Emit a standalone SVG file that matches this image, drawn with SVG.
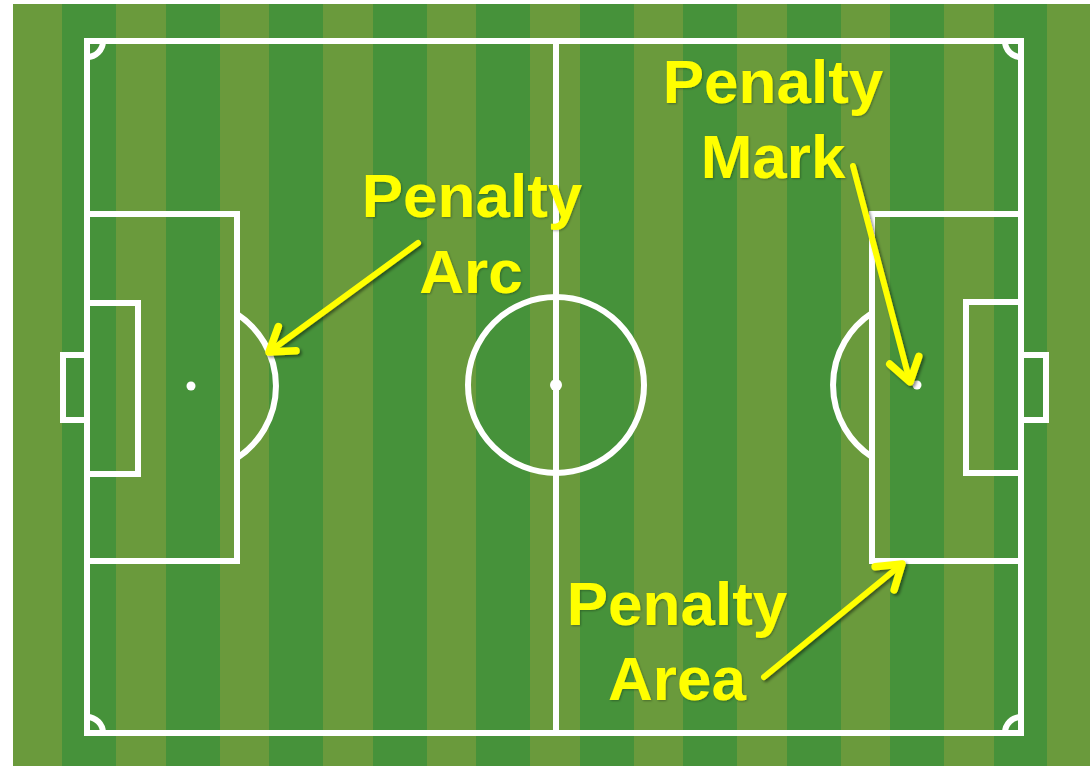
<svg xmlns="http://www.w3.org/2000/svg" width="1090" height="766" viewBox="0 0 1090 766">
  <defs>
    <style>
      .light { fill: #6a9a3c; }
      .dark { fill: #46923a; }
      .line { fill: none; stroke: #ffffff; stroke-width: 6; }
      .spot { fill: #ffffff; }
      .lbl { font-family: "Liberation Sans", Arial, sans-serif; font-weight: bold; font-size: 62px; fill: #ffff00; text-anchor: middle; }
      .arrow { fill: none; stroke: #ffff00; stroke-width: 6; stroke-linecap: round; }
    </style>
    <filter id="shadow" x="-20%" y="-20%" width="140%" height="140%">
      <feDropShadow dx="2" dy="2" stdDeviation="1.5" flood-color="#000000" flood-opacity="0.45"/>
    </filter>
    <filter id="tshadow" x="-10%" y="-10%" width="120%" height="120%">
      <feDropShadow dx="1" dy="1" stdDeviation="1" flood-color="#000000" flood-opacity="0.3"/>
    </filter>
    <marker id="head" markerUnits="userSpaceOnUse" markerWidth="40" markerHeight="40" refX="0" refY="0" viewBox="-24 -16 30 32" orient="auto" overflow="visible">
      <path d="M -18 -12 L 0 0 L -18 12" fill="none" stroke="#ffff00" stroke-width="6" stroke-linecap="round" stroke-linejoin="round"/>
    </marker>
  </defs>

  <rect x="0" y="0" width="1090" height="766" fill="#ffffff"/>

  <g id="turf">
    <rect class="light" x="13" y="4" width="1077" height="762"/>
    <rect class="dark" x="62" y="4" width="54" height="762"/>
    <rect class="dark" x="166" y="4" width="54" height="762"/>
    <rect class="dark" x="269" y="4" width="54" height="762"/>
    <rect class="dark" x="373" y="4" width="54" height="762"/>
    <rect class="dark" x="476" y="4" width="54" height="762"/>
    <rect class="dark" x="580" y="4" width="54" height="762"/>
    <rect class="dark" x="683" y="4" width="54" height="762"/>
    <rect class="dark" x="787" y="4" width="54" height="762"/>
    <rect class="dark" x="890" y="4" width="54" height="762"/>
    <rect class="dark" x="994" y="4" width="53" height="762"/>
  </g>

  <g id="pitch-markings">
    <rect class="line" x="87" y="41" width="934" height="692"/>
    <line class="line" x1="556" y1="41" x2="556" y2="733"/>
    <circle class="line" cx="556" cy="385" r="88"/>
    <circle class="spot" cx="556" cy="385" r="6"/>
    <path class="line" d="M 103 41 A 16 16 0 0 1 87 57"/>
    <path class="line" d="M 1021 57 A 16 16 0 0 1 1005 41"/>
    <path class="line" d="M 87 717 A 16 16 0 0 1 103 733"/>
    <path class="line" d="M 1005 733 A 16 16 0 0 1 1021 717"/>
  </g>

  <g id="left-end">
    <rect class="line" x="87" y="214" width="150" height="347"/>
    <rect class="line" x="87" y="303" width="51" height="171"/>
    <rect class="line" x="63" y="355" width="24" height="65"/>
    <circle class="spot" cx="191" cy="386" r="4.5"/>
    <path class="line" d="M 237 314 A 86 86 0 0 1 237 458"/>
  </g>

  <g id="right-end">
    <rect class="line" x="872" y="214" width="149" height="347"/>
    <rect class="line" x="966" y="302" width="55" height="171"/>
    <rect class="line" x="1021" y="355" width="25" height="65"/>
    <circle class="spot" cx="917" cy="385" r="4.5"/>
    <path class="line" d="M 872 313 A 86 86 0 0 0 872 457"/>
  </g>

  <g id="connectors" filter="url(#shadow)">
    <line class="arrow" x1="418" y1="243" x2="269" y2="352" marker-end="url(#head)"/>
    <line class="arrow" x1="853" y1="166" x2="910" y2="382" marker-end="url(#head)"/>
    <line class="arrow" x1="764" y1="677" x2="902" y2="564" marker-end="url(#head)"/>
  </g>

  <g id="label-penalty-arc" filter="url(#tshadow)">
    <text class="lbl" x="472" y="217">Penalty</text>
    <text class="lbl" x="471" y="293">Arc</text>
  </g>

  <g id="label-penalty-mark" filter="url(#tshadow)">
    <text class="lbl" x="773" y="103">Penalty</text>
    <text class="lbl" x="773" y="178">Mark</text>
  </g>

  <g id="label-penalty-area" filter="url(#tshadow)">
    <text class="lbl" x="677" y="625">Penalty</text>
    <text class="lbl" x="677" y="700">Area</text>
  </g>
</svg>
